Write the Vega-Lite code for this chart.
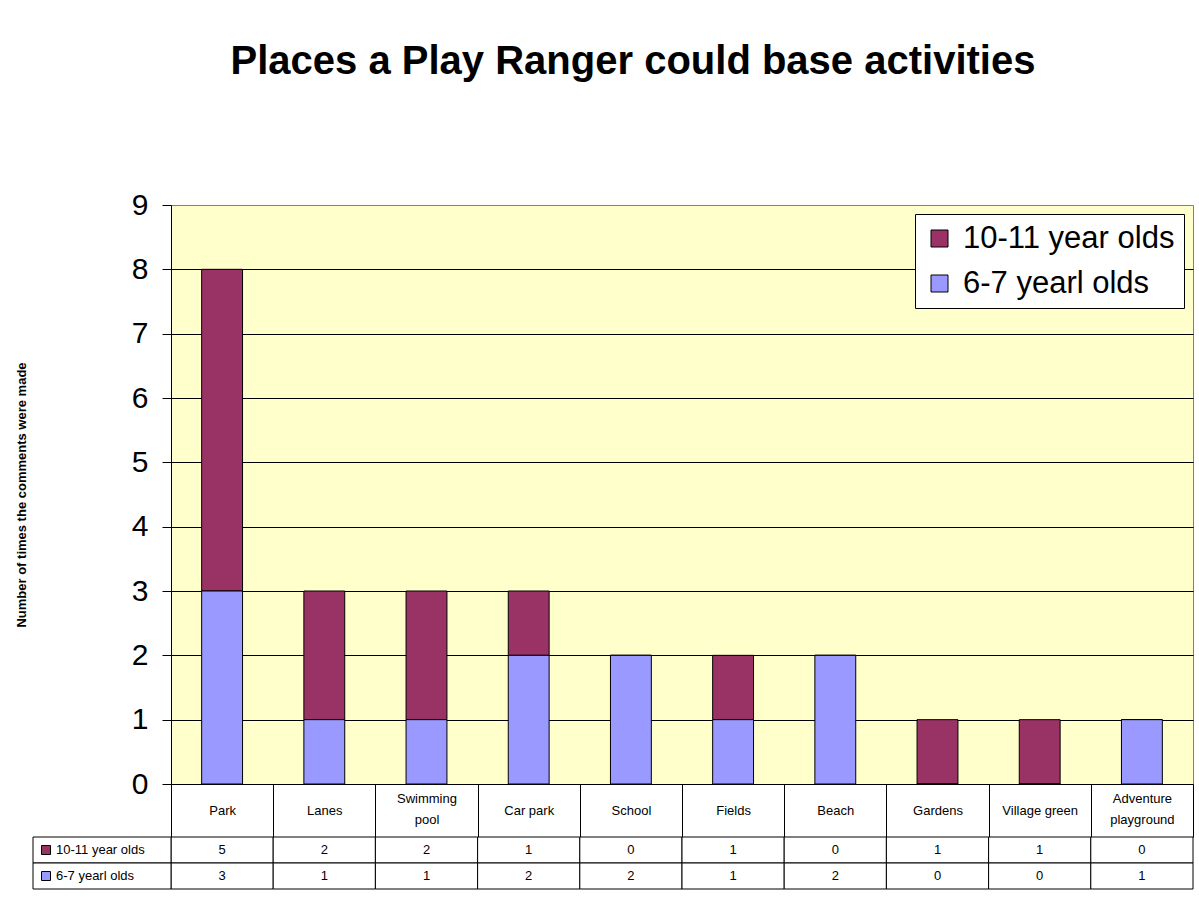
{
  "$schema": "https://vega.github.io/schema/vega-lite/v6.json",
  "background": "white",
  "padding": {"left": 14, "top": 41, "right": 5, "bottom": 5},
  "config": {"font": "Liberation Sans", "view": {"stroke": null}},
  "datasets": {
    "counts": [
      {"place": "Park", "series": "10-11 year olds", "count": 5},
      {"place": "Park", "series": "6-7 yearl olds", "count": 3},
      {"place": "Lanes", "series": "10-11 year olds", "count": 2},
      {"place": "Lanes", "series": "6-7 yearl olds", "count": 1},
      {"place": "Swimming pool", "series": "10-11 year olds", "count": 2},
      {"place": "Swimming pool", "series": "6-7 yearl olds", "count": 1},
      {"place": "Car park", "series": "10-11 year olds", "count": 1},
      {"place": "Car park", "series": "6-7 yearl olds", "count": 2},
      {"place": "School", "series": "10-11 year olds", "count": 0},
      {"place": "School", "series": "6-7 yearl olds", "count": 2},
      {"place": "Fields", "series": "10-11 year olds", "count": 1},
      {"place": "Fields", "series": "6-7 yearl olds", "count": 1},
      {"place": "Beach", "series": "10-11 year olds", "count": 0},
      {"place": "Beach", "series": "6-7 yearl olds", "count": 2},
      {"place": "Gardens", "series": "10-11 year olds", "count": 1},
      {"place": "Gardens", "series": "6-7 yearl olds", "count": 0},
      {"place": "Village green", "series": "10-11 year olds", "count": 1},
      {"place": "Village green", "series": "6-7 yearl olds", "count": 0},
      {"place": "Adventure playground", "series": "10-11 year olds", "count": 0},
      {"place": "Adventure playground", "series": "6-7 yearl olds", "count": 1}
    ],
    "headers": [
      {"series": "10-11 year olds", "col": "header"},
      {"series": "6-7 yearl olds", "col": "header"}
    ]
  },
  "bounds": "flush",
  "spacing": 53,
  "resolve": {
    "scale": {"x": "independent", "y": "independent", "color": "independent"},
    "legend": {"color": "independent"}
  },
  "vconcat": [
    {
      "width": 1022,
      "height": 579,
      "title": {
        "text": "Places a Play Ranger could base activities",
        "fontSize": 40,
        "fontWeight": "bold",
        "font": "Liberation Sans",
        "color": "black",
        "anchor": "middle",
        "offset": 108,
        "dx": -49
      },
      "view": {"fill": "#FFFFCC", "stroke": "#808080", "strokeWidth": 1},
      "data": {"name": "counts"},
      "mark": {"type": "bar", "width": {"band": 0.4}, "stroke": "black", "strokeWidth": 1},
      "encoding": {
        "x": {
          "field": "place",
          "type": "nominal",
          "sort": ["Park", "Lanes", "Swimming pool", "Car park", "School", "Fields", "Beach", "Gardens", "Village green", "Adventure playground"],
          "scale": {"paddingInner": 0, "paddingOuter": 0},
          "axis": {
            "title": null,
            "orient": "bottom",
            "tickBand": "extent",
            "tickSize": 53,
            "tickColor": "black",
            "domainColor": "black",
            "labelAngle": 0,
            "labelFontSize": 13,
            "labelColor": "black",
            "labelBaseline": "middle",
            "labelPadding": {"condition": {"test": "datum.value === 'Swimming pool' || datum.value === 'Adventure playground'", "value": -39}, "value": -27},
            "labelLineHeight": 21,
            "labelExpr": "datum.label === 'Swimming pool' ? ['Swimming', 'pool'] : datum.label === 'Adventure playground' ? ['Adventure', 'playground'] : datum.label"
          }
        },
        "y": {
          "field": "count",
          "type": "quantitative",
          "stack": "zero",
          "scale": {"domain": [0, 9], "nice": false},
          "axis": {
            "values": [0, 1, 2, 3, 4, 5, 6, 7, 8, 9],
            "title": "Number of times the comments were made",
            "titleFontSize": 13,
            "titleFontWeight": "bold",
            "titleColor": "black",
            "titlePadding": 103,
            "labelFontSize": 30,
            "labelColor": "black",
            "labelPadding": 14,
            "tickSize": 9,
            "tickColor": "black",
            "domainColor": "black",
            "grid": true,
            "gridColor": {"condition": {"test": "datum.value === 9", "value": "#808080"}, "value": "black"},
            "gridOpacity": 1
          }
        },
        "color": {
          "field": "series",
          "type": "nominal",
          "scale": {"domain": ["10-11 year olds", "6-7 yearl olds"], "range": ["#993366", "#9999FF"]},
          "legend": {
            "title": null,
            "orient": "top-right",
            "offset": 9,
            "fillColor": "white",
            "strokeColor": "black",
            "padding": 9,
            "symbolType": "square",
            "symbolSize": 289,
            "symbolStrokeColor": "black",
            "symbolStrokeWidth": 1,
            "symbolOpacity": 1,
            "labelFontSize": 31,
            "labelColor": "black",
            "labelOffset": 8,
            "labelLimit": 400,
            "rowPadding": 13
          }
        },
        "order": {"field": "series", "sort": "descending"}
      }
    },
    {
      "width": 1022,
      "height": 52,
      "resolve": {"scale": {"x": "independent"}},
      "layer": [
        {
          "data": {"name": "counts"},
          "mark": {"type": "rect", "fill": "white", "stroke": "black", "strokeWidth": 1},
          "encoding": {
            "x": {"field": "place", "type": "nominal", "sort": ["Park", "Lanes", "Swimming pool", "Car park", "School", "Fields", "Beach", "Gardens", "Village green", "Adventure playground"], "scale": {"paddingInner": 0, "paddingOuter": 0}, "axis": null},
            "y": {"field": "series", "type": "nominal", "sort": ["10-11 year olds", "6-7 yearl olds"], "scale": {"paddingInner": 0, "paddingOuter": 0}, "axis": null}
          }
        },
        {
          "data": {"name": "counts"},
          "mark": {"type": "text", "fontSize": 13, "color": "black", "baseline": "middle"},
          "encoding": {
            "x": {"field": "place", "type": "nominal", "sort": ["Park", "Lanes", "Swimming pool", "Car park", "School", "Fields", "Beach", "Gardens", "Village green", "Adventure playground"], "scale": {"paddingInner": 0, "paddingOuter": 0}, "axis": null},
            "y": {"field": "series", "type": "nominal", "sort": ["10-11 year olds", "6-7 yearl olds"], "axis": null},
            "text": {"field": "count", "type": "quantitative"}
          }
        },
        {
          "data": {"name": "headers"},
          "mark": {"type": "rect", "fill": "white", "stroke": "black", "strokeWidth": 1},
          "encoding": {
            "x": {"field": "col", "type": "nominal", "scale": {"range": [-138, 0], "paddingInner": 0, "paddingOuter": 0}, "axis": null},
            "y": {"field": "series", "type": "nominal", "sort": ["10-11 year olds", "6-7 yearl olds"], "axis": null}
          }
        },
        {
          "data": {"name": "headers"},
          "mark": {"type": "square", "size": 81, "xOffset": -56, "stroke": "black", "strokeWidth": 1, "opacity": 1},
          "encoding": {
            "x": {"field": "col", "type": "nominal", "scale": {"range": [-138, 0], "paddingInner": 0, "paddingOuter": 0}, "axis": null},
            "y": {"field": "series", "type": "nominal", "sort": ["10-11 year olds", "6-7 yearl olds"], "axis": null},
            "fill": {"field": "series", "type": "nominal", "scale": {"domain": ["10-11 year olds", "6-7 yearl olds"], "range": ["#993366", "#9999FF"]}, "legend": null}
          }
        },
        {
          "data": {"name": "headers"},
          "mark": {"type": "text", "fontSize": 13, "color": "black", "align": "left", "baseline": "middle", "dx": -46},
          "encoding": {
            "x": {"field": "col", "type": "nominal", "scale": {"range": [-138, 0], "paddingInner": 0, "paddingOuter": 0}, "axis": null},
            "y": {"field": "series", "type": "nominal", "sort": ["10-11 year olds", "6-7 yearl olds"], "axis": null},
            "text": {"field": "series", "type": "nominal"}
          }
        }
      ]
    }
  ]
}
